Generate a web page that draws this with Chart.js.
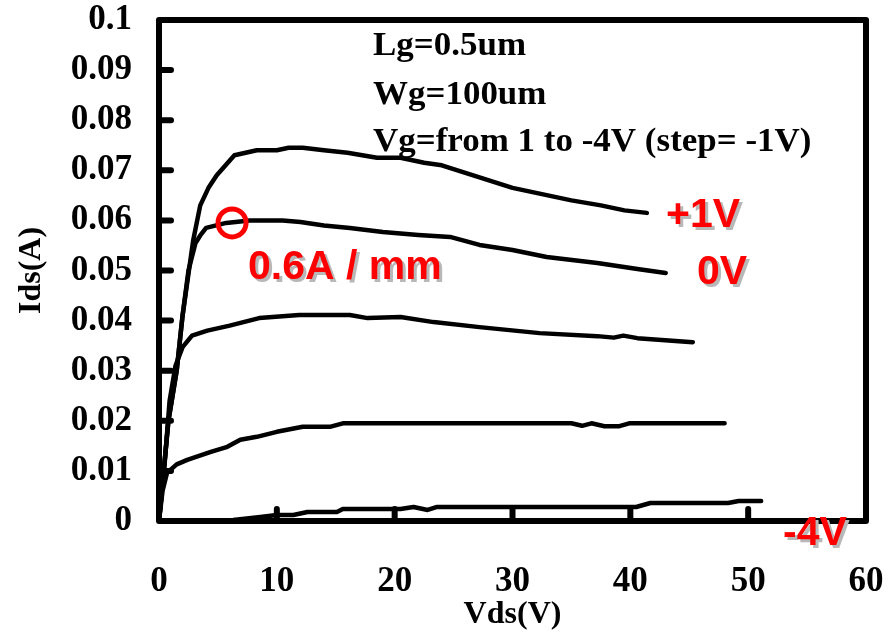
<!DOCTYPE html>
<html>
<head>
<meta charset="utf-8">
<title>Ids-Vds</title>
<script src="https://cdn.jsdelivr.net/npm/chart.js@4.4.1/dist/chart.umd.min.js"></script>
<style>
  html, body { margin: 0; padding: 0; background: #fff; }
  #wrap { width: 895px; height: 636px; }
</style>
</head>
<body>
<div id="wrap"><canvas id="ivChart" width="895" height="636"></canvas></div>
<script>
// Ids-Vds output curves, Vg from +1V down to -4V

const xTickLabels = ["0", "10", "20", "30", "40", "50", "60"];
const yTickLabels = ["0", "0.01", "0.02", "0.03", "0.04", "0.05", "0.06", "0.07", "0.08", "0.09", "0.1"];

const vdsP1 = [0, 0.8, 1.5, 2.0, 2.9, 3.5, 4.2, 4.9, 6.4, 8.3, 10.0, 11.0, 12.2, 14.0, 16.0, 18.5, 20.5, 22.5, 24.0, 26.0, 28.0, 30.0, 32.0, 35.0, 37.5, 39.5, 41.4];
const idsP1 = [0, 0.020, 0.030, 0.041, 0.056, 0.063, 0.0665, 0.069, 0.073, 0.074, 0.074, 0.0745, 0.0745, 0.074, 0.0735, 0.0725, 0.0725, 0.0715, 0.071, 0.0695, 0.068, 0.0665, 0.0655, 0.064, 0.063, 0.062, 0.0615];

const vds0 = [0, 0.8, 1.5, 2.0, 2.5, 3.1, 3.5, 4.0, 5.7, 7.7, 10.5, 12.0, 14.0, 16.2, 19.0, 22.0, 24.7, 27.2, 30.0, 32.9, 37.2, 40.6, 43.0];
const ids0 = [0, 0.020, 0.030, 0.041, 0.050, 0.0555, 0.057, 0.0585, 0.0595, 0.060, 0.060, 0.0597, 0.059, 0.0585, 0.0577, 0.0571, 0.0567, 0.0551, 0.0541, 0.0527, 0.0515, 0.0503, 0.0495];

const vdsM1 = [0, 0.5, 0.9, 1.4, 2.0, 2.8, 4.1, 6.0, 8.5, 11.9, 16.2, 17.7, 20.5, 23.3, 27.2, 32.3, 37.2, 38.6, 39.4, 40.6, 45.3];
const idsM1 = [0, 0.012, 0.024, 0.031, 0.0347, 0.037, 0.038, 0.039, 0.0405, 0.0411, 0.0411, 0.0405, 0.0407, 0.0397, 0.0387, 0.0375, 0.0369, 0.0366, 0.0370, 0.0365, 0.0357];

const vdsM2 = [0, 0.3, 0.68, 1.5, 2.4, 4.4, 5.8, 6.9, 8.3, 10.0, 12.2, 14.5, 15.6, 35.0, 35.9, 36.7, 37.8, 39.0, 39.9, 48.0];
const idsM2 = [0, 0.006, 0.0096, 0.0113, 0.0122, 0.0138, 0.0148, 0.0162, 0.0168, 0.0178, 0.0188, 0.0188, 0.0195, 0.0195, 0.0190, 0.0195, 0.0189, 0.0189, 0.0195, 0.0195];

const vdsM3 = [0, 5.0, 6.3, 8.6, 10.0, 11.4, 12.6, 15.1, 15.6, 20.5, 21.6, 22.8, 23.6, 40.5, 41.7, 48.3, 49.2, 51.1];
const idsM3 = [0, 0, 0.0002, 0.0008, 0.0012, 0.0012, 0.0018, 0.0018, 0.0024, 0.0024, 0.0028, 0.0022, 0.0028, 0.0028, 0.0036, 0.0036, 0.0040, 0.0040];

const vdsM4 = [0, 20, 40, 52];
const idsM4 = [0, 0, 0, 0];

const seriesNames = ["+1V", "0V", "-1V", "-2V", "-3V", "-4V"];

// annotation texts
const infoLines = ["Lg=0.5um", "Wg=100um", "Vg=from 1 to -4V (step= -1V)"];
const currentNote = "0.6A / mm";
const markVds = 6.2, markIds = 0.0595;

function toPoints(xs, ys) {
    return xs.map((x, i) => ({ x: x, y: ys[i] }));
}

const serifBold = "bold 33px 'Liberation Serif', 'Times New Roman', serif";
const sansBold = "bold 41px 'Liberation Sans', Arial, sans-serif";

// frame, inward ticks and text annotations
const decorPlugin = {
    id: "decor",
    afterDatasetsDraw(chart) {
        const ctx = chart.ctx;
        const area = chart.chartArea;
        const xs = chart.scales.x;
        const ys = chart.scales.y;
        ctx.save();
        ctx.strokeStyle = "#000";
        ctx.lineCap = "round";
        ctx.lineJoin = "round";
        ctx.lineWidth = 6;
        ctx.strokeRect(area.left, area.top, area.right - area.left, area.bottom - area.top);

        ctx.lineWidth = 6;
        for (let i = 1; i < yTickLabels.length - 1; i++) {
            const py = ys.getPixelForValue(i * 0.01);
            ctx.beginPath();
            ctx.moveTo(area.left, py);
            ctx.lineTo(area.left + 12, py);
            ctx.stroke();
        }
        for (let i = 1; i < xTickLabels.length - 1; i++) {
            const px = xs.getPixelForValue(i * 10);
            ctx.beginPath();
            ctx.moveTo(px, area.bottom);
            ctx.lineTo(px, area.bottom - 12);
            ctx.stroke();
        }

        // device info
        ctx.fillStyle = "#000";
        ctx.font = serifBold;
        ctx.textBaseline = "middle";
        ctx.textAlign = "left";
        const infoY = [46, 95, 142];
        infoLines.forEach((t, i) => {
            ctx.save();
            ctx.translate(373, infoY[i]);
            ctx.scale(1.06, 1);
            ctx.fillText(t, 0, 0);
            ctx.restore();
        });

        // red marker circle
        ctx.strokeStyle = "#ff0000";
        ctx.lineWidth = 5;
        ctx.beginPath();
        ctx.arc(xs.getPixelForValue(markVds), ys.getPixelForValue(markIds), 14, 0, Math.PI * 2);
        ctx.stroke();

        // red labels with light shadow
        ctx.font = sansBold;
        const redLabels = [
            [currentNote, 248, 268],
            [seriesNames[0], 666, 216],
            [seriesNames[1], 697, 273],
            [seriesNames[5], 783, 534]
        ];
        redLabels.forEach(([t, x, y]) => {
            ctx.fillStyle = "#b8b8b8";
            ctx.fillText(t, x + 3, y + 3);
            ctx.fillStyle = "#ff0000";
            ctx.fillText(t, x, y);
        });
        ctx.restore();
    }
};

const lists = [[vdsP1, idsP1], [vds0, ids0], [vdsM1, idsM1], [vdsM2, idsM2], [vdsM3, idsM3], [vdsM4, idsM4]];

const datasets = lists.map(([xs, ys], i) => ({
    label: seriesNames[i],
    data: toPoints(xs, ys),
    showLine: true,
    borderColor: "#000",
    borderWidth: 4.5,
    borderCapStyle: "round",
    borderJoinStyle: "round",
    pointRadius: 0,
    tension: 0,
    fill: false
}));

const tickFont = { family: "'Liberation Serif', 'Times New Roman', serif", weight: "bold", size: 35 };
const titleFont = { family: "'Liberation Serif', 'Times New Roman', serif", weight: "bold", size: 32 };

new Chart(document.getElementById("ivChart").getContext("2d"), {
    type: "scatter",
    data: { datasets: datasets },
    options: {
        responsive: false,
        animation: false,
        devicePixelRatio: 1,
        layout: { padding: { left: 0, top: 20, right: 29, bottom: 0 } },
        plugins: { legend: { display: false }, tooltip: { enabled: false } },
        scales: {
            x: {
                type: "linear",
                min: 0,
                max: 60,
                grid: { display: false, drawTicks: false },
                border: { display: false },
                ticks: {
                    stepSize: 10,
                    color: "#000",
                    font: tickFont,
                    padding: 40,
                    maxRotation: 0,
                    callback: (v) => xTickLabels[Math.round(v / 10)]
                },
                title: { display: true, text: "Vds(V)", color: "#000", font: titleFont, padding: { top: 0, bottom: 2 } },
                afterFit(scale) {
                    scale.height = 115;
                    scale.paddingLeft = 0;
                    scale.paddingRight = 0;
                }
            },
            y: {
                type: "linear",
                min: 0,
                max: 0.1,
                grid: { display: false, drawTicks: false },
                border: { display: false },
                ticks: {
                    stepSize: 0.01,
                    color: "#000",
                    font: tickFont,
                    padding: 27,
                    callback: (v) => yTickLabels[Math.round(v * 100)]
                },
                title: { display: true, text: "Ids(A)", color: "#000", font: titleFont, padding: { top: 13, bottom: 0 } },
                afterFit(scale) {
                    scale.width = 159;
                    scale.paddingTop = 0;
                    scale.paddingBottom = 0;
                }
            }
        }
    },
    plugins: [decorPlugin]
});
</script>
</body>
</html>
